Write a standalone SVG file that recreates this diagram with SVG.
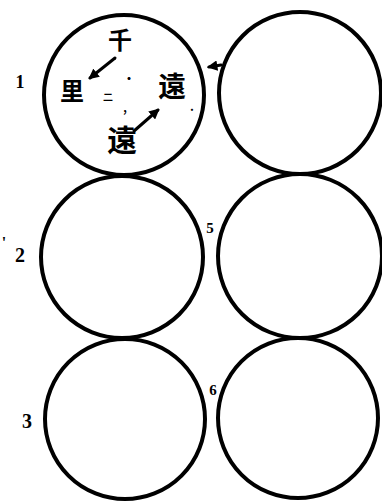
<svg xmlns="http://www.w3.org/2000/svg" width="382" height="501" viewBox="0 0 382 501">
<defs>
<style>
.c{fill:none;stroke:#000;stroke-width:4}
.n{font-family:"Liberation Serif",serif;font-weight:bold;fill:#000;text-anchor:middle}
.k{font-family:"Noto Sans CJK SC",sans-serif;font-weight:bold;fill:#000;text-anchor:middle}
.a{stroke:#000;stroke-width:3;fill:none;stroke-linecap:round}
</style>
<marker id="ah" viewBox="0 0 10 10" refX="8" refY="5" markerWidth="3.5" markerHeight="3.5" orient="auto"><path d="M0,0 L10,5 L0,10 z" fill="#000"/></marker>
</defs>
<rect width="382" height="501" fill="#fff"/>
<g id="node1">
<circle class="c" cx="124" cy="95" r="80"/>
<text class="n" x="20" y="88" font-size="18">1</text>
<text class="k" x="120" y="49" font-size="24">千</text>
<text class="k" x="72" y="100" font-size="24">里</text>
<text class="k" x="108" y="101" font-size="10">二</text>
<text class="k" x="129" y="84" font-size="12">·</text>
<text class="k" x="172" y="97" font-size="28">遠</text>
<text class="k" x="192" y="111" font-size="12">.</text>
<text class="k" x="125" y="112" font-size="11">,</text>
<text class="k" x="122" y="151" font-size="30">遠</text>
</g>
<g id="node4">
<circle class="c" cx="300" cy="93" r="81"/>
</g>
<g id="node2">
<circle class="c" cx="122" cy="257" r="81"/>
<text class="n" x="4" y="248" font-size="16">'</text>
<text class="n" x="20" y="262" font-size="20">2</text>
</g>
<g id="node5">
<circle class="c" cx="300" cy="256" r="82"/>
<text class="n" x="210" y="233" font-size="15">5</text>
</g>
<g id="node3">
<circle class="c" cx="125" cy="419" r="80"/>
<text class="n" x="27" y="428" font-size="20">3</text>
</g>
<g id="node6">
<circle class="c" cx="298" cy="418" r="80"/>
<text class="n" x="213" y="395" font-size="15">6</text>
</g>
<g id="connectors">
<line class="a" x1="115" y1="58" x2="90" y2="78" marker-end="url(#ah)"/>
<line class="a" x1="134" y1="131" x2="158" y2="110" marker-end="url(#ah)"/>
<line class="a" x1="221" y1="65" x2="209" y2="67" stroke-width="2" marker-end="url(#ah)"/>
</g>
</svg>
